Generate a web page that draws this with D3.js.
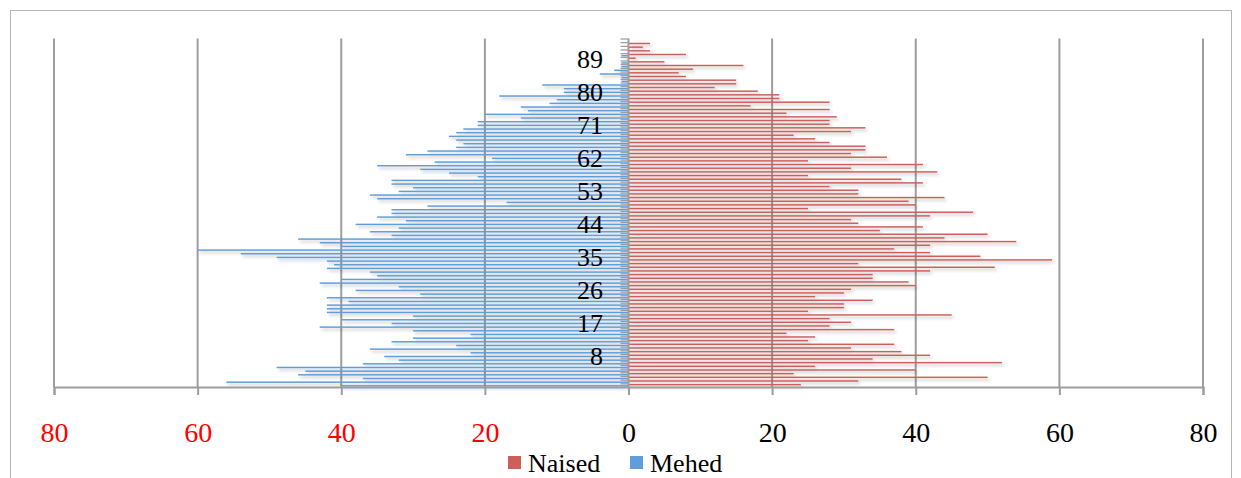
<!DOCTYPE html>
<html>
<head>
<meta charset="utf-8">
<script src="https://cdn.jsdelivr.net/npm/d3@7"></script>
<style>
  html, body { margin: 0; padding: 0; background: #fff; }
  #chart { width: 1241px; height: 478px; }
</style>
</head>
<body>
<div id="chart"></div>
<script>
// Ages 0..94 (bottom to top)
const ages = d3.range(0, 95);
const ageLabels = [8, 17, 26, 35, 44, 53, 62, 71, 80, 89];
const xTicks = [-80, -60, -40, -20, 0, 20, 40, 60, 80];
const seriesNames = ['Naised', 'Mehed'];

// Naised (women), index = age
const naised = [
  24, 32, 50, 23, 40, 26, 52, 34, 42, 38,
  31, 37, 25, 26, 22, 37, 28, 31, 28, 45,
  25, 30, 30, 34, 26, 30, 31, 40, 39, 34,
  34, 42, 51, 32, 59, 49, 42, 37, 42, 54,
  44, 50, 35, 41, 32, 31, 42, 48, 25, 40,
  39, 44, 32, 32, 28, 41, 38, 25, 43, 31,
  41, 25, 36, 31, 33, 33, 28, 26, 23, 31,
  33, 28, 28, 29, 22, 28, 17, 28, 21, 21,
  18, 12, 15, 15, 8, 7, 9, 16, 5, 1,
  8, 3, 2, 3, 0
];

// Mehed (men), index = age
const mehed = [
  40, 56, 37, 46, 45, 49, 37, 32, 34, 22,
  36, 24, 33, 30, 22, 30, 43, 33, 40, 30,
  42, 42, 42, 39, 42, 29, 38, 32, 43, 40,
  35, 36, 42, 41, 42, 49, 54, 60, 40, 43,
  46, 33, 36, 32, 38, 31, 35, 33, 33, 28,
  17, 35, 36, 32, 30, 33, 33, 21, 25, 29,
  35, 27, 19, 31, 28, 24, 23, 24, 25, 24,
  23, 21, 21, 15, 20, 14, 15, 11, 10, 18,
  9, 9, 12, 1, 1, 4, 2, 1, 1, 0,
  1, 0, 0, 0, 0
];

const colors = { Naised: '#cc5f5a', Mehed: '#5f9ddc' };
const font = '"Liberation Serif", "Times New Roman", serif';

const W = 1241, H = 478;
const plot = { left: 54, right: 1203, top: 38.5, bottom: 387 };

const svg = d3.select('#chart').append('svg')
  .attr('width', W)
  .attr('height', H);

// drop shadow for bars
const defs = svg.append('defs');
const f = defs.append('filter').attr('id', 'shadow')
  .attr('x', '-5%').attr('y', '-200%').attr('width', '110%').attr('height', '500%');
f.append('feDropShadow')
  .attr('dx', 2).attr('dy', 2.4).attr('stdDeviation', 1.5)
  .attr('flood-color', '#000').attr('flood-opacity', 0.24);

// chart border
svg.append('rect')
  .attr('x', 10.5).attr('y', 10.5)
  .attr('width', 1221).attr('height', 500)
  .attr('fill', 'none')
  .attr('stroke', '#b5b5b5')
  .attr('stroke-width', 1);

const x = d3.scaleLinear().domain([-80, 80]).range([plot.left, plot.right]);
const y = d3.scaleBand().domain(ages).range([plot.bottom, plot.top]).padding(0);
const bw = y.bandwidth();

// vertical gridlines
svg.append('g')
  .selectAll('line')
  .data(xTicks.filter(d => d !== 0))
  .join('line')
  .attr('x1', d => x(d)).attr('x2', d => x(d))
  .attr('y1', plot.top).attr('y2', plot.bottom)
  .attr('stroke', '#9d9d9d')
  .attr('stroke-width', 2);

// bars
const bars = svg.append('g').attr('filter', 'url(#shadow)');

bars.selectAll('rect.naised')
  .data(ages)
  .join('rect')
  .attr('class', 'naised')
  .attr('x', x(0))
  .attr('y', d => y(d) + bw * 0.16)
  .attr('width', d => x(naised[d]) - x(0))
  .attr('height', bw * 0.4)
  .attr('fill', colors.Naised);

bars.selectAll('rect.mehed')
  .data(ages)
  .join('rect')
  .attr('class', 'mehed')
  .attr('x', d => x(-mehed[d]))
  .attr('y', d => y(d) + bw * 0.48)
  .attr('width', d => x(0) - x(-mehed[d]))
  .attr('height', bw * 0.4)
  .attr('fill', colors.Mehed);

// bottom axis
const xAxis = d3.axisBottom(x)
  .tickValues(xTicks)
  .tickSize(8)
  .tickPadding(27)
  .tickFormat(d => Math.abs(d));

const gx = svg.append('g')
  .attr('transform', `translate(0,${plot.bottom})`)
  .call(xAxis);
gx.select('.domain').attr('stroke', '#9d9d9d').attr('stroke-width', 2);
gx.selectAll('.tick line').attr('stroke', '#9d9d9d').attr('stroke-width', 2);
gx.selectAll('.tick text')
  .attr('font-family', font)
  .attr('font-size', 28)
  .attr('fill', d => d < 0 ? '#ff0000' : '#000');

// vertical category axis with ticks between categories
const gy = svg.append('g');
gy.selectAll('line.tk')
  .data(ages)
  .join('line')
  .attr('class', 'tk')
  .attr('x1', x(0) - 8).attr('x2', x(0))
  .attr('y1', d => y(d) + 0.5).attr('y2', d => y(d) + 0.5)
  .attr('stroke', '#999')
  .attr('stroke-width', 1.2);
gy.append('line')
  .attr('x1', x(0)).attr('x2', x(0))
  .attr('y1', plot.top).attr('y2', plot.bottom)
  .attr('stroke', '#9d9d9d')
  .attr('stroke-width', 2);

// age labels
gy.selectAll('text')
  .data(ageLabels)
  .join('text')
  .attr('x', 603)
  .attr('y', d => y(d) + bw / 2)
  .attr('dy', '0.35em')
  .attr('text-anchor', 'end')
  .attr('font-family', font)
  .attr('font-size', 26)
  .attr('fill', '#000')
  .text(d => d);

// legend
const legend = svg.append('g');
const legendPos = [508, 630];
seriesNames.forEach((name, i) => {
  const g = legend.append('g').attr('transform', `translate(${legendPos[i]},456)`);
  g.append('rect')
    .attr('width', 13).attr('height', 13)
    .attr('fill', colors[name]);
  g.append('text')
    .attr('x', 20).attr('y', 16)
    .attr('font-family', font)
    .attr('font-size', 26)
    .attr('fill', '#000')
    .text(name);
});
</script>
</body>
</html>
